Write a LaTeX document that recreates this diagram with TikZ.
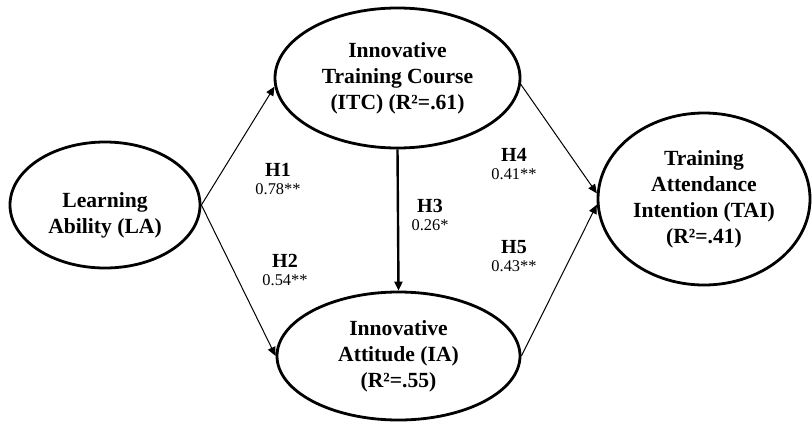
\documentclass[tikz,border=0pt]{standalone}
\usepackage{fontspec}
\setmainfont{Liberation Serif}
\usetikzlibrary{shapes.geometric,arrows.meta}

\tikzset{
	construct/.style={draw,ellipse,line width=1.4pt,inner sep=0pt,align=center,
		font=\fontsize{10.8}{13}\selectfont\bfseries},
	relpath/.style={-{Triangle[length=4.5pt,width=4pt]},line width=0.5pt},
	hyp/.style={align=center,font=\fontsize{10}{9.2}\selectfont\bfseries}
}
\newcommand{\coefval}[1]{{\mdseries\fontsize{8.2}{9.2}\selectfont #1}}

\begin{document}
\begin{tikzpicture}[x=0.5pt,y=-0.5pt]
			\useasboundingbox (0,0) rectangle (812,428);
			
			% constructs
			\node[construct,minimum width=95pt,minimum height=63pt] (LA) at (105,205) {};
			\node[align=center,font=\fontsize{10.8}{13}\selectfont\bfseries] (LAtext) at (105,215) {Learning\\Ability (LA)};
			\node[construct,minimum width=122.5pt,minimum height=70pt] (ITC) at (397.5,78) {Innovative\\Training Course\\(ITC) (R²=.61)};
			\node[construct,minimum width=121.5pt,minimum height=64pt] (IA) at (398.5,356) {Innovative\\Attitude (IA)\\(R²=.55)};
			\node[construct,minimum width=106pt,minimum height=86pt] (TAI) at (704,199) {Training\\Attendance\\Intention (TAI)\\(R²=.41)};
			
			% paths
			\draw[relpath] (LA.east) -- (ITC.184);
			\draw[relpath] (LA.east) -- (IA.west);
			\draw[relpath,line width=1.2pt] (ITC.south) -- (IA.north);
			\draw[relpath] (ITC.357) -- (TAI.177);
			\draw[relpath] (IA.east) -- (TAI.183);
			
			% hypotheses
			\node[hyp] (H1) at (278,179) {H1\\\coefval{0.78**}};
			\node[hyp] (H2) at (285,270) {H2\\\coefval{0.54**}};
			\node[hyp] (H3) at (430,215) {H3\\\coefval{0.26*}};
			\node[hyp] (H4) at (514,164) {H4\\\coefval{0.41**}};
			\node[hyp] (H5) at (514,256) {H5\\\coefval{0.43**}};
\end{tikzpicture}
\end{document}
